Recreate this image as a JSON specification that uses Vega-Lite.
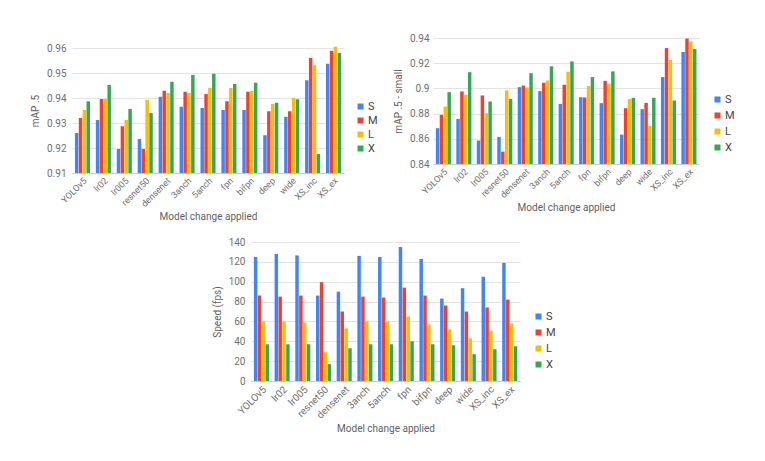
{
  "$schema": "https://vega.github.io/schema/vega-lite/v6.json",
  "padding": {"left": 30, "top": 33, "right": 5, "bottom": 5},
  "config": {
    "view": {"stroke": null},
    "font": "Roboto",
    "axis": {"labelFontSize": 10, "labelColor": "#6f6f6f", "titleFontSize": 10, "titleFontWeight": "normal", "titleColor": "#5f5f5f", "gridColor": "#e3e3e3", "ticks": false},
    "axisX": {"labelAngle": -45, "domain": true, "domainColor": "#cccccc", "grid": false, "titlePadding": 3, "labelPadding": 3},
    "axisY": {"domain": false, "labelPadding": 6, "titlePadding": 6},
    "legend": {"title": null, "orient": "none", "symbolType": "square", "symbolSize": 36, "labelFontSize": 11, "labelColor": "#444444", "labelOffset": 2, "symbolStrokeWidth": 0},
    "bar": {"stroke": null}
  },
  "datasets": {
    "d": [
      {"model": "YOLOv5", "size": "S", "map5": 0.926, "mapsmall": 0.8684, "fps": 125},
      {"model": "YOLOv5", "size": "M", "map5": 0.932, "mapsmall": 0.879, "fps": 86},
      {"model": "YOLOv5", "size": "L", "map5": 0.9352, "mapsmall": 0.8856, "fps": 60},
      {"model": "YOLOv5", "size": "X", "map5": 0.9387, "mapsmall": 0.897, "fps": 37},
      {"model": "lr02", "size": "S", "map5": 0.9312, "mapsmall": 0.8758, "fps": 128},
      {"model": "lr02", "size": "M", "map5": 0.9396, "mapsmall": 0.8976, "fps": 85},
      {"model": "lr02", "size": "L", "map5": 0.9396, "mapsmall": 0.8949, "fps": 60},
      {"model": "lr02", "size": "X", "map5": 0.9452, "mapsmall": 0.9129, "fps": 37},
      {"model": "lr005", "size": "S", "map5": 0.9196, "mapsmall": 0.8586, "fps": 126.5},
      {"model": "lr005", "size": "M", "map5": 0.9287, "mapsmall": 0.8944, "fps": 86},
      {"model": "lr005", "size": "L", "map5": 0.9312, "mapsmall": 0.8803, "fps": 59},
      {"model": "lr005", "size": "X", "map5": 0.9356, "mapsmall": 0.8896, "fps": 37},
      {"model": "resnet50", "size": "S", "map5": 0.9236, "mapsmall": 0.8615, "fps": 86},
      {"model": "resnet50", "size": "M", "map5": 0.9196, "mapsmall": 0.8498, "fps": 99.5},
      {"model": "resnet50", "size": "L", "map5": 0.9392, "mapsmall": 0.8984, "fps": 29},
      {"model": "resnet50", "size": "X", "map5": 0.934, "mapsmall": 0.8917, "fps": 17},
      {"model": "densenet", "size": "S", "map5": 0.9405, "mapsmall": 0.901, "fps": 90},
      {"model": "densenet", "size": "M", "map5": 0.9429, "mapsmall": 0.9023, "fps": 70},
      {"model": "densenet", "size": "L", "map5": 0.942, "mapsmall": 0.9007, "fps": 53},
      {"model": "densenet", "size": "X", "map5": 0.9465, "mapsmall": 0.9121, "fps": 33},
      {"model": "3anch", "size": "S", "map5": 0.9365, "mapsmall": 0.8978, "fps": 126},
      {"model": "3anch", "size": "M", "map5": 0.9425, "mapsmall": 0.9045, "fps": 85},
      {"model": "3anch", "size": "L", "map5": 0.942, "mapsmall": 0.9063, "fps": 60},
      {"model": "3anch", "size": "X", "map5": 0.9492, "mapsmall": 0.9175, "fps": 37},
      {"model": "5anch", "size": "S", "map5": 0.936, "mapsmall": 0.8877, "fps": 125},
      {"model": "5anch", "size": "M", "map5": 0.9416, "mapsmall": 0.9029, "fps": 84},
      {"model": "5anch", "size": "L", "map5": 0.944, "mapsmall": 0.9132, "fps": 60},
      {"model": "5anch", "size": "X", "map5": 0.9497, "mapsmall": 0.9214, "fps": 37},
      {"model": "fpn", "size": "S", "map5": 0.9352, "mapsmall": 0.893, "fps": 135},
      {"model": "fpn", "size": "M", "map5": 0.9387, "mapsmall": 0.8928, "fps": 94},
      {"model": "fpn", "size": "L", "map5": 0.944, "mapsmall": 0.9018, "fps": 65},
      {"model": "fpn", "size": "X", "map5": 0.9456, "mapsmall": 0.909, "fps": 40},
      {"model": "bifpn", "size": "S", "map5": 0.9352, "mapsmall": 0.8883, "fps": 123},
      {"model": "bifpn", "size": "M", "map5": 0.9425, "mapsmall": 0.906, "fps": 86},
      {"model": "bifpn", "size": "L", "map5": 0.9429, "mapsmall": 0.9037, "fps": 57},
      {"model": "bifpn", "size": "X", "map5": 0.9461, "mapsmall": 0.9135, "fps": 37},
      {"model": "deep", "size": "S", "map5": 0.9251, "mapsmall": 0.8633, "fps": 83},
      {"model": "deep", "size": "M", "map5": 0.9347, "mapsmall": 0.8843, "fps": 76},
      {"model": "deep", "size": "L", "map5": 0.9376, "mapsmall": 0.8915, "fps": 52},
      {"model": "deep", "size": "X", "map5": 0.9381, "mapsmall": 0.8925, "fps": 36},
      {"model": "wide", "size": "S", "map5": 0.9325, "mapsmall": 0.8835, "fps": 93.5},
      {"model": "wide", "size": "M", "map5": 0.9347, "mapsmall": 0.8885, "fps": 70},
      {"model": "wide", "size": "L", "map5": 0.94, "mapsmall": 0.8702, "fps": 43},
      {"model": "wide", "size": "X", "map5": 0.9395, "mapsmall": 0.8925, "fps": 27},
      {"model": "XS_inc", "size": "S", "map5": 0.9471, "mapsmall": 0.909, "fps": 105},
      {"model": "XS_inc", "size": "M", "map5": 0.956, "mapsmall": 0.932, "fps": 74},
      {"model": "XS_inc", "size": "L", "map5": 0.9531, "mapsmall": 0.9225, "fps": 50.6},
      {"model": "XS_inc", "size": "X", "map5": 0.9176, "mapsmall": 0.8904, "fps": 32},
      {"model": "XS_ex", "size": "S", "map5": 0.9537, "mapsmall": 0.9289, "fps": 119},
      {"model": "XS_ex", "size": "M", "map5": 0.9589, "mapsmall": 0.9395, "fps": 82},
      {"model": "XS_ex", "size": "L", "map5": 0.9605, "mapsmall": 0.9373, "fps": 58},
      {"model": "XS_ex", "size": "X", "map5": 0.958, "mapsmall": 0.9312, "fps": 35}
    ]
  },
  "vconcat": [
    {
      "hconcat": [
        {
          "vconcat": [
            {"data": {"values": [{}]}, "mark": {"type": "point", "opacity": 0}, "width": 1, "height": 4},
            {
              "data": {"name": "d"},
              "width": 272, "height": 125,
              "mark": {"type": "bar"},
              "encoding": {
                "x": {"field": "model", "type": "nominal", "sort": null, "title": "Model change applied", "scale": {"paddingInner": 0.28, "paddingOuter": 0.14}, "axis": {"labelFontSize": 9}},
                "xOffset": {"field": "size", "type": "nominal", "sort": ["S", "M", "L", "X"], "scale": {"paddingInner": 0.1}},
                "y": {"field": "map5", "type": "quantitative", "title": "mAP .5", "scale": {"domain": [0.91, 0.96], "nice": false, "zero": false}, "axis": {"values": [0.91, 0.92, 0.93, 0.94, 0.95, 0.96], "format": ".2~f"}},
                "y2": {"datum": 0.91},
                "color": {"field": "size", "type": "nominal", "sort": ["S", "M", "L", "X"], "scale": {"domain": ["S", "M", "L", "X"], "range": ["#4285F4", "#EA4335", "#FBBC04", "#34A853"]}, "legend": {"legendX": 283, "legendY": 63, "rowPadding": 2}}
              }
            }
          ],
          "spacing": 0
        },
        {
          "data": {"name": "d"},
          "width": 266, "height": 126,
          "mark": {"type": "bar"},
          "encoding": {
            "x": {"field": "model", "type": "nominal", "sort": null, "title": "Model change applied", "scale": {"paddingInner": 0.28, "paddingOuter": 0.14}, "axis": {"labelFontSize": 9}},
            "xOffset": {"field": "size", "type": "nominal", "sort": ["S", "M", "L", "X"], "scale": {"paddingInner": 0.1}},
            "y": {"field": "mapsmall", "type": "quantitative", "title": "mAP .5 - small", "scale": {"domain": [0.84, 0.94], "nice": false, "zero": false}, "axis": {"values": [0.84, 0.86, 0.88, 0.9, 0.92, 0.94], "format": ".2~f", "labelPadding": 4}},
            "y2": {"datum": 0.84},
            "color": {"field": "size", "type": "nominal", "sort": ["S", "M", "L", "X"], "scale": {"domain": ["S", "M", "L", "X"], "range": ["#4285F4", "#EA4335", "#FBBC04", "#34A853"]}, "legend": {"legendX": 279, "legendY": 56, "rowPadding": 4}}
          }
        }
      ],
      "spacing": 15,
      "resolve": {"legend": {"color": "independent"}}
    },
    {
      "data": {"name": "d"},
      "width": 269, "height": 139,
      "mark": {"type": "bar"},
      "encoding": {
        "x": {"field": "model", "type": "nominal", "sort": null, "title": "Model change applied", "scale": {"paddingInner": 0.28, "paddingOuter": 0.14}},
        "xOffset": {"field": "size", "type": "nominal", "sort": ["S", "M", "L", "X"], "scale": {"paddingInner": 0.1}},
        "y": {"field": "fps", "type": "quantitative", "title": "Speed (fps)", "scale": {"domain": [0, 140], "nice": false}, "axis": {"values": [0, 20, 40, 60, 80, 100, 120, 140]}},
        "color": {"field": "size", "type": "nominal", "sort": ["S", "M", "L", "X"], "scale": {"domain": ["S", "M", "L", "X"], "range": ["#4285F4", "#EA4335", "#FBBC04", "#34A853"]}, "legend": {"legendX": 282, "legendY": 69, "rowPadding": 4}}
      }
    }
  ],
  "spacing": 15,
  "center": true,
  "resolve": {"legend": {"color": "independent"}}
}
